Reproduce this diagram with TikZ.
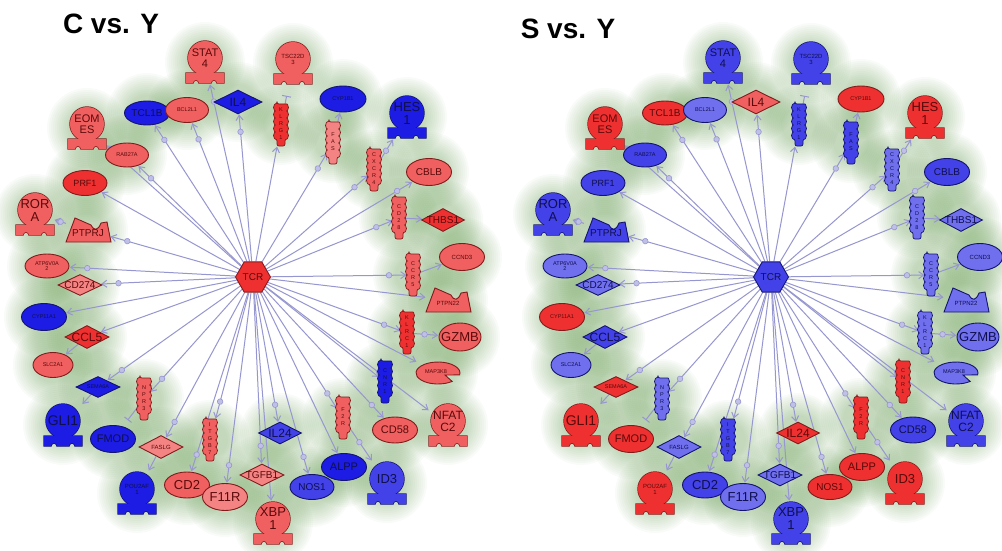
\documentclass[tikz,border=0pt]{standalone}
\usepackage{fontspec}
\setmainfont{Liberation Sans}
\usetikzlibrary{shapes.geometric,arrows.meta,decorations.markings}
\pgfdeclarelayer{bg}\pgfdeclarelayer{edges}
\pgfsetlayers{bg,edges,main}
\definecolor{rB}{RGB}{238,48,48}
\definecolor{rM}{RGB}{240,96,96}
\definecolor{rL}{RGB}{244,132,132}
\definecolor{bD}{RGB}{28,28,228}
\definecolor{bM}{RGB}{66,66,232}
\definecolor{bL}{RGB}{112,112,238}
\definecolor{rE}{RGB}{128,28,28}
\definecolor{bE}{RGB}{20,20,110}
\definecolor{rT}{RGB}{90,10,10}
\definecolor{bT}{RGB}{15,15,80}
\definecolor{ec}{RGB}{150,150,208}
\definecolor{mkc}{RGB}{192,192,230}
\definecolor{glc}{RGB}{85,150,60}
\newcommand\fsz[1]{\fontsize{#1}{#1}\selectfont}
\newcommand\setcols[1]{\foreach \n/\s in {#1}{\expandafter\xdef\csname col@\n\endcsname{\s}}}
\tikzset{
  RB/.style={fill=rB,draw=rE,text=rT},
  RM/.style={fill=rM,draw=rE,text=rT},
  RL/.style={fill=rL,draw=rE,text=rT},
  BD/.style={fill=bD,draw=bE,text=bT},
  BM/.style={fill=bM,draw=bE,text=bT},
  BL/.style={fill=bL,draw=bE,text=bT},
  cc/.code={\edef\tmpc{\csname col@#1\endcsname}\expandafter\pgfkeysalso\expandafter{\tmpc}},
  hit/.style={inner sep=0pt,outer sep=0pt},
  lab/.style={fill=none,draw=none,align=center,inner sep=0pt},
  ed/.style={draw=ec,line width=1pt,-{Straight Barb[length=5pt,width=7pt]},shorten >=0.5pt},
  mk/.style={postaction={decorate},decoration={markings,mark=at position -18pt with {\filldraw[fill=mkc,draw=ec,line width=0.6pt] (0,0) circle (2.8);}}},
  mkm/.style={postaction={decorate},decoration={markings,mark=at position 0.45 with {\filldraw[fill=mkc,draw=ec,line width=0.6pt] (0,0) circle (2.8);}}},
  tb/.style={draw=ec,line width=1pt,-{Bar[width=9pt]}}
}
\newcommand\glow[2]{\begin{pgfonlayer}{bg}\foreach \rr in {40,38,...,18}{\fill[glc,fill opacity=0.032] (#1,#2) circle (\rr);}\end{pgfonlayer}}
% transcription regulator
\newcommand\TRn[5]{\glow{#2}{#3}%
 \node[hit,minimum width=38pt,minimum height=44pt] (#1) at (#2,#3) {};
 \begin{scope}[shift={(#2,#3)}]
  \path[cc=#1,line width=1.4pt] (0,-4) circle (17);
  \path[cc=#1,line width=1.4pt] (-19,11) -- (19,11) -- (19,21) -- (12,21) arc[start angle=0,end angle=-180,radius=3] -- (-6,21) arc[start angle=0,end angle=-180,radius=3] -- (-19,21) -- cycle;
  \path[cc=#1,draw=none] (0,-4) circle (17);
  \path[cc=#1,draw=none] (-19,11) -- (19,11) -- (19,21) -- (12,21) arc[start angle=0,end angle=-180,radius=3] -- (-6,21) arc[start angle=0,end angle=-180,radius=3] -- (-19,21) -- cycle;
 \end{scope}
 \node[cc=#1,lab,font=\fsz{#5}] (#1-lab) at (#2,#3-4) {#4};}
% generic shape
\newcommand\SHn[8]{\glow{#3}{#4}%
 \node[#1,cc=#2,line width=0.9pt,minimum width=#5pt,minimum height=#6pt,inner sep=0pt] (#2) at (#3,#4) {};
 \node[cc=#2,lab,font=\fsz{#8}] (#2-lab) at (#3,#4) {#7};}
% receptor
\newcommand\RCn[4]{\glow{#2}{#3}%
 \node[hit,minimum width=12pt,minimum height=42pt] (#1) at (#2,#3) {};
 \begin{scope}[shift={(#2,#3)}]
  \path[cc=#1,line width=0.7pt,rounded corners=2pt] (-4,-21) -- (4,-21)
   arc[start angle=-90,end angle=90,radius=3.5] arc[start angle=-90,end angle=90,radius=3.5]
   arc[start angle=-90,end angle=90,radius=3.5] arc[start angle=-90,end angle=90,radius=3.5]
   arc[start angle=-90,end angle=90,radius=3.5]
   -- (4,21) -- (-4,21) -- (-4,14)
   arc[start angle=90,end angle=270,radius=3.5] arc[start angle=90,end angle=270,radius=3.5]
   arc[start angle=90,end angle=270,radius=3.5] arc[start angle=90,end angle=270,radius=3.5]
   arc[start angle=90,end angle=270,radius=3.5]
   -- cycle;
 \end{scope}
 \node[cc=#1,lab,font=\fontsize{5.5}{7}\selectfont] (#1-lab) at (#2,#3-1) {#4};}
% phosphatase
\newcommand\PHn[5]{\glow{#2}{#3}%
 \node[hit,minimum width=44pt,minimum height=24pt] (#1) at (#2,#3) {};
 \begin{scope}[shift={(#2,#3)}]
  \path[cc=#1,line width=0.9pt] (-22,12) -- (-13,-12) -- (3,-5) .. controls (6,1) and (10,1) .. (13,-7) -- (19,-8) -- (23,12) -- cycle;
 \end{scope}
 \node[cc=#1,lab,font=\fsz{#5}] (#1-lab) at (#2,#3+3) {#4};}
% kinase
\newcommand\KNn[5]{\glow{#2}{#3}%
 \node[hit,minimum width=44pt,minimum height=22pt] (#1) at (#2,#3) {};
 \begin{scope}[shift={(#2,#3)}]
  \path[cc=#1,line width=0.9pt] (7,2) -- (50:22 and 11) arc[start angle=50,end angle=370,x radius=22,y radius=11] -- cycle;
 \end{scope}
 \node[cc=#1,lab,font=\fsz{#5}] (#1-lab) at (#2-2,#3-1) {#4};}

\newcommand\Net{%
\TRn{STAT4}{205}{62}{STAT\\4}{11}
\TRn{TSC22D3}{293}{63}{TSC22D\\3}{6}
\TRn{HES1}{407}{117}{HES\\1}{13}
\TRn{EOMES}{87}{128}{EOM\\ES}{11}
\TRn{RORA}{35}{214}{ROR\\A}{13}
\TRn{GLI1}{63}{425}{GLI1}{14}
\TRn{POU2AF1}{137}{493}{POU2AF\\1}{6}
\TRn{XBP1}{273}{523}{XBP\\1}{13}
\TRn{ID3}{387}{483}{ID3}{13}
\TRn{NFATC2}{448}{425}{NFAT\\C2}{12}
\SHn{ellipse}{TCL1B}{147}{113}{45}{24}{TCL1B}{10}
\SHn{ellipse}{BCL2L1}{187}{110}{43}{25}{BCL2L1}{5.5}
\SHn{ellipse}{CYP1B1}{343}{99}{46}{26}{CYP1B1}{5.5}
\SHn{ellipse}{CBLB}{429}{172}{45}{27}{CBLB}{10}
\SHn{ellipse}{RAB27A}{127}{155}{43}{24}{RAB27A}{5.5}
\SHn{ellipse}{PRF1}{85}{183}{44}{25}{PRF1}{9}
\SHn{ellipse}{ATP6V0A2}{47}{266}{44}{24}{ATP6V0A\\2}{5.5}
\SHn{ellipse}{CYP11A1}{44}{317}{45}{27}{CYP11A1}{5.5}
\SHn{ellipse}{SLC2A1}{53}{365}{40}{25}{SLC2A1}{5.5}
\SHn{ellipse}{CCND3}{462}{257}{45}{27}{CCND3}{6}
\SHn{ellipse}{GZMB}{460}{337}{42}{28}{GZMB}{13}
\SHn{ellipse}{FMOD}{113}{439}{45}{27}{FMOD}{11}
\SHn{ellipse}{CD2}{187}{485}{45}{26}{CD2}{13}
\SHn{ellipse}{F11R}{225}{497}{45}{27}{F11R}{13}
\SHn{ellipse}{CD58}{395}{430}{45}{26}{CD58}{11}
\SHn{ellipse}{NOS1}{312}{487}{44}{25}{NOS1}{10}
\SHn{ellipse}{ALPP}{344}{467}{45}{27}{ALPP}{11}
\SHn{diamond}{IL4}{238}{102}{48}{24}{IL4}{12}
\SHn{diamond}{CD274}{80}{285}{44}{21}{CD274}{10}
\SHn{diamond}{CCL5}{87}{337}{44}{23}{CCL5}{12}
\SHn{diamond}{THBS1}{443}{220}{43}{23}{THBS1}{10}
\SHn{diamond}{SEMA6A}{98}{387}{44}{21}{SEMA6A}{5.5}
\SHn{diamond}{FASLG}{161}{447}{44}{23}{FASLG}{6}
\SHn{diamond}{IL24}{280}{433}{43}{22}{IL24}{12}
\SHn{diamond}{TGFB1}{262}{475}{44}{22}{TGFB1}{10}
\PHn{PTPRJ}{88}{230}{PTPRJ}{10}
\PHn{PTPN22}{448}{300}{PTPN22}{6}
\KNn{MAP3K8}{438}{373}{MAP3K8}{5.5}
\RCn{KLRG1}{281}{125}{K\\L\\R\\G\\1}
\RCn{FAS}{333}{143}{F\\A\\S}
\RCn{CXCR4}{374}{170}{C\\X\\C\\R\\4}
\RCn{CD28}{399}{218}{C\\D\\2\\8}
\RCn{CCR5}{413}{275}{C\\C\\R\\5}
\RCn{KLRC1}{407}{333}{K\\L\\R\\C\\1}
\RCn{CNR1}{385}{382}{C\\N\\R\\1}
\RCn{F2R}{343}{418}{F\\2\\R}
\RCn{ITGB7}{210}{440}{I\\T\\G\\B\\7}
\RCn{NPR3}{144}{399}{N\\P\\R\\3}
\node[regular polygon,regular polygon sides=6,cc=TCR,line width=0.9pt,minimum size=35pt,inner sep=0pt,font=\fsz{10}] (TCR) at (253,277) {TCR};
\begin{pgfonlayer}{edges}
\foreach \tg in {STAT4,TCL1B,BCL2L1,IL4,FAS,CXCR4,CBLB,CD28,CCR5,KLRC1,CD58,F2R,NOS1,IL24,TGFB1,F11R,CD2,ITGB7,FASLG,NPR3,SEMA6A,CD274,ATP6V0A2,PTPRJ,RAB27A,EOMES}{\draw[ed,mk] (TCR) -- (\tg);}
\foreach \tg in {KLRG1,PTPN22,MAP3K8,CNR1,NFATC2,ALPP,XBP1,CCL5,CYP11A1,PRF1}{\draw[ed] (TCR) -- (\tg);}
\draw[ed] (FAS) -- (CYP1B1);
\draw[ed,mkm] (CXCR4) -- (HES1);
\draw[ed] (CD28) -- (THBS1);
\draw[ed] (CCR5) -- (CCND3);
\draw[ed,mkm] (KLRC1) -- (GZMB);
\draw[ed,mkm] (F2R) -- (ID3);
\draw[ed] (FASLG) -- (POU2AF1);
\draw[ed] (SEMA6A) -- (GLI1);
\draw[ed] (CCL5) -- (SLC2A1);
\draw[ed,mkm] (PTPRJ) -- (RORA);
\draw[tb,shorten >=11pt] (KLRG1) -- (TSC22D3);
\draw[tb,shorten >=8pt] (NPR3) -- (FMOD);
\end{pgfonlayer}
}

\begin{document}
\begin{tikzpicture}[x=1pt,y=-1pt]
\useasboundingbox (0,0) rectangle (1002,551);
\begin{pgfonlayer}{bg}\fill[white] (0,0) rectangle (1002,551);\end{pgfonlayer}
\node[font=\bfseries\fsz{28}] (title1) at (111,24) {C vs. Y};
\node[font=\bfseries\fsz{28}] (title2) at (568,29) {S vs. Y};
\setcols{STAT4/RM,TCL1B/BD,BCL2L1/RM,IL4/BD,TSC22D3/RM,KLRG1/RB,CYP1B1/BD,FAS/RL,HES1/BD,CXCR4/RM,CBLB/RM,EOMES/RM,RAB27A/RM,PRF1/RB,RORA/RM,PTPRJ/RM,ATP6V0A2/RM,CD274/RL,CYP11A1/BD,CCL5/RB,SLC2A1/RM,CD28/RM,THBS1/RB,CCND3/RM,CCR5/RM,PTPN22/RM,KLRC1/RB,GZMB/RM,MAP3K8/RM,CNR1/BD,NFATC2/RM,F2R/RM,CD58/RM,IL24/BM,TGFB1/RL,NOS1/BM,ALPP/BD,ID3/BM,XBP1/RM,SEMA6A/BD,NPR3/RM,GLI1/BD,FMOD/BD,FASLG/RL,ITGB7/RM,POU2AF1/BD,CD2/RM,F11R/RL,TCR/RB}
\begin{scope}[name prefix=L-]
\Net
\end{scope}
\setcols{STAT4/BM,TCL1B/RB,BCL2L1/BL,IL4/RM,TSC22D3/BM,KLRG1/BM,CYP1B1/RB,FAS/BM,HES1/RB,CXCR4/BL,CBLB/BM,EOMES/RB,RAB27A/BM,PRF1/BM,RORA/BM,PTPRJ/BM,ATP6V0A2/BL,CD274/BL,CYP11A1/RB,CCL5/BM,SLC2A1/BL,CD28/BL,THBS1/BL,CCND3/BL,CCR5/BL,PTPN22/BL,KLRC1/BL,GZMB/BL,MAP3K8/BL,CNR1/RB,NFATC2/BM,F2R/RB,CD58/BM,IL24/RB,TGFB1/BL,NOS1/RB,ALPP/RB,ID3/RB,XBP1/BM,SEMA6A/RB,NPR3/BL,GLI1/RB,FMOD/RB,FASLG/BL,ITGB7/BM,POU2AF1/RB,CD2/BM,F11R/BL,TCR/BM}
\begin{scope}[name prefix=R-,shift={(518,0)}]
\Net
\end{scope}
\end{tikzpicture}
\end{document}
